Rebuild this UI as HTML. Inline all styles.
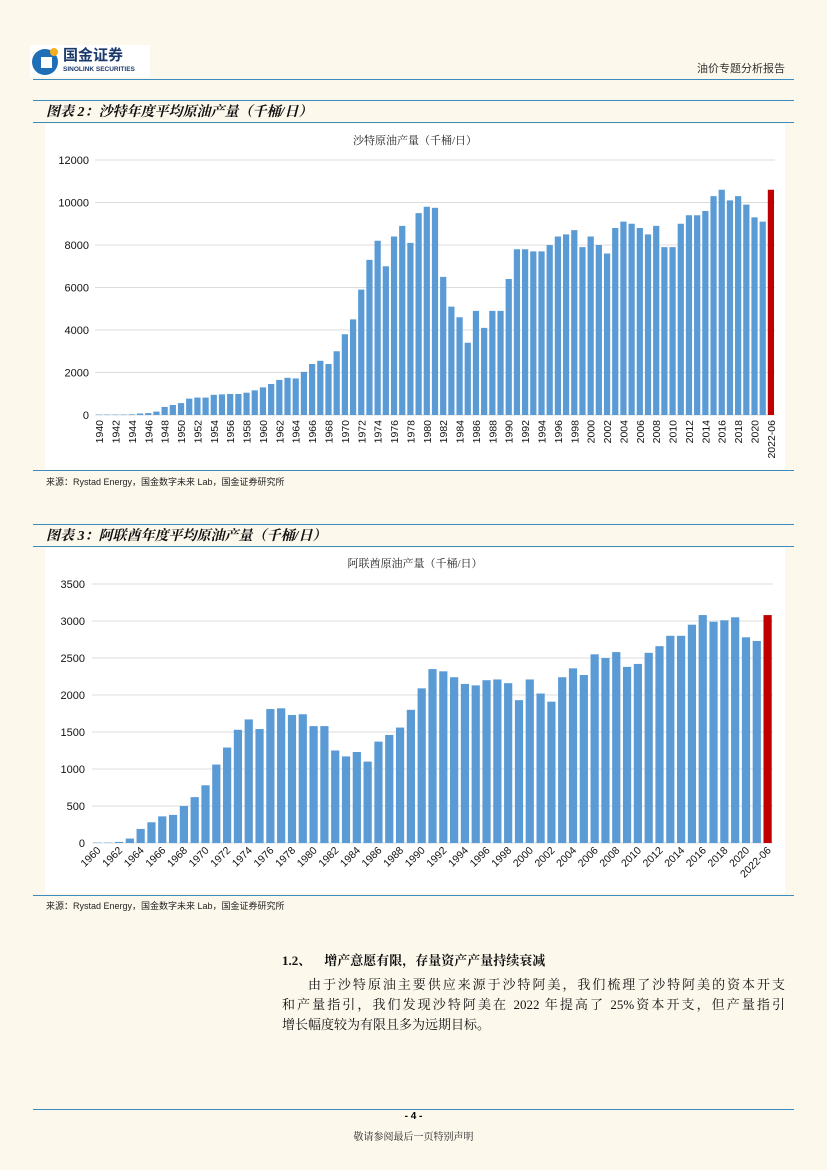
<!DOCTYPE html>
<html><head><meta charset="utf-8">
<style>
body{margin:0;background:#fdf8ec;}
#page{position:relative;width:827px;height:1170px;background:#fdf8ec;font-family:"Liberation Sans","Noto Sans CJK SC",sans-serif;overflow:hidden;}
.abs{position:absolute;}
.hl{position:absolute;height:1px;background:#3a8cc0;}
.ttl{position:absolute;left:46px;font-size:14px;font-weight:bold;font-style:italic;color:#111;font-family:"Liberation Serif","Noto Serif CJK SC",serif;}
.src{position:absolute;left:46px;font-size:9px;color:#222;}
.jl{text-align:justify;text-align-last:justify;white-space:nowrap;}
</style></head><body>
<div id="page">
  <div class="abs" style="left:30px;top:45px;width:120px;height:32px;background:#fff;">
    <div class="abs" style="left:2px;top:4px;width:26px;height:26px;border-radius:50%;background:#1e6fb5;"></div>
    <div class="abs" style="left:11px;top:12px;width:11px;height:11px;background:#fff;"></div>
    <div class="abs" style="left:20px;top:3px;width:8px;height:8px;border-radius:50%;background:#f2b01e;"></div>
    <div class="abs" style="left:33px;top:2px;font-size:15px;line-height:17px;font-weight:bold;color:#1b3a6b;">国金证券</div>
    <div class="abs" style="left:33px;top:21px;font-size:6.5px;line-height:8px;font-weight:bold;color:#1b3a6b;">SINOLINK SECURITIES</div>
  </div>
  <div class="abs" style="right:42px;top:60px;font-size:11px;color:#333;">油价专题分析报告</div>
  <div class="hl" style="left:33px;width:761px;top:79px;"></div>
  <div class="hl" style="left:33px;width:761px;top:100px;"></div>
  <div class="ttl" style="top:101px;">图表 2：沙特年度平均原油产量（千桶/日）</div>
  <div class="hl" style="left:33px;width:761px;top:122px;"></div>
  <svg class="abs" id="c1" style="left:45px;top:124px;" width="740" height="345"></svg>
  <div class="hl" style="left:33px;width:761px;top:470px;"></div>
  <div class="src" style="top:475px;">来源：Rystad Energy，国金数字未来 Lab，国金证券研究所</div>

  <div class="hl" style="left:33px;width:761px;top:524px;"></div>
  <div class="ttl" style="top:525px;">图表 3：阿联酋年度平均原油产量（千桶/日）</div>
  <div class="hl" style="left:33px;width:761px;top:546px;"></div>
  <svg class="abs" id="c2" style="left:45px;top:548px;" width="740" height="345"></svg>
  <div class="hl" style="left:33px;width:761px;top:895px;"></div>
  <div class="src" style="top:899px;">来源：Rystad Energy，国金数字未来 Lab，国金证券研究所</div>

  <div class="abs" style="left:282px;top:950px;font-size:13px;font-weight:bold;color:#111;font-family:'Liberation Serif','Noto Serif CJK SC',serif;">1.2、&nbsp;&nbsp;&nbsp;&nbsp;增产意愿有限，存量资产产量持续衰减</div>
  <div class="abs" style="left:282px;top:975px;width:503px;font-size:13px;line-height:20px;color:#111;font-family:'Liberation Serif','Noto Serif CJK SC',serif;">
    <div class="jl" style="padding-left:26px;">由于沙特原油主要供应来源于沙特阿美，我们梳理了沙特阿美的资本开支</div>
    <div class="jl">和产量指引，我们发现沙特阿美在 2022 年提高了 25%资本开支，但产量指引</div>
    <div>增长幅度较为有限且多为远期目标。</div>
  </div>

  <div class="hl" style="left:33px;width:761px;top:1109px;"></div>
  <div class="abs" style="left:0;width:827px;text-align:center;top:1111px;font-size:10px;font-weight:bold;">- 4 -</div>
  <div class="abs" style="left:0;width:827px;text-align:center;top:1128px;font-size:10px;color:#222;font-family:'Liberation Serif','Noto Serif CJK SC',serif;">敬请参阅最后一页特别声明</div>
</div>
<script>
const saudiYears = [];
for (let y = 1940; y <= 2021; y++) saudiYears.push(String(y));
saudiYears.push('2022-06');
const saudiValues = [20,20,20,20,30,70,90,160,380,470,560,770,820,820,950,970,990,990,1050,1160,1300,1460,1650,1750,1720,2030,2400,2550,2400,3000,3800,4500,5900,7300,8200,7000,8400,8900,8100,9500,9800,9750,6500,5100,4600,3400,4900,4100,4900,4900,6400,7800,7800,7700,7700,8000,8400,8500,8700,7900,8400,8000,7600,8800,9100,9000,8800,8500,8900,7900,7900,9000,9400,9400,9600,10300,10600,10100,10300,9900,9300,9100,10600];
const saudiTicks = [0,2000,4000,6000,8000,10000,12000];

const uaeYears = [];
for (let y = 1960; y <= 2021; y++) uaeYears.push(String(y));
uaeYears.push('2022-06');
const uaeValues = [5,5,15,60,190,280,360,380,500,620,780,1060,1290,1530,1670,1540,1810,1820,1730,1740,1580,1580,1250,1170,1230,1100,1370,1460,1560,1800,2090,2350,2320,2240,2150,2130,2200,2210,2160,1930,2210,2020,1910,2240,2360,2270,2550,2500,2580,2380,2420,2570,2660,2800,2800,2950,3080,2990,3010,3050,2780,2730,3080];
const uaeTicks = [0,500,1000,1500,2000,2500,3000,3500];

const NS='http://www.w3.org/2000/svg';
function mk(svg,tag,attrs){const e=document.createElementNS(NS,tag);for(const k in attrs)e.setAttribute(k,attrs[k]);svg.appendChild(e);return e;}

function draw(svg, title, cats, vals, ticks, o){
  mk(svg,'rect',{x:0,y:0,width:740,height:345,fill:'#fff'});
  const t=mk(svg,'text',{x:o.cx,y:o.ty,'font-size':11,'text-anchor':'middle',fill:'#222','font-family':'"Liberation Serif","Noto Serif CJK SC",serif'});
  t.textContent=title;
  
  
  const max=ticks[ticks.length-1];
  const yS=v=>o.y0-(v/max)*(o.y0-o.y1);
  const step=(o.x1-o.x0)/cats.length;
  const xS=i=>o.x0+i*step;
  ticks.forEach(tv=>{
    const gl=mk(svg,'line',{x1:o.x0,x2:o.x1,y1:yS(tv),y2:yS(tv),stroke:'#dcdcdc','stroke-width':1});
    
    
    const tl=mk(svg,'text',{x:o.lx,y:yS(tv)+4,'font-size':11,'text-anchor':'end',fill:'#111','font-family':'Liberation Sans,sans-serif'});
    tl.textContent=tv;
    
    
  });
  vals.forEach((v,i)=>{
    const last=i===vals.length-1;
    const b=mk(svg,'rect',{x:xS(i)+step*0.12,y:yS(v),width:step*0.76,height:o.y0-yS(v),fill:last?'#c00000':'#5b9bd5'});
    
    
  });
  cats.forEach((c,i)=>{
    if(i%2!==0 && i!==cats.length-1) return;
    const cx=xS(i)+step/2;
    let tx;
    if(o.rot===-90){
      tx=mk(svg,'text',{x:cx+4,y:o.y0+5,'font-size':10.5,'text-anchor':'end',fill:'#111','font-family':'Liberation Sans,sans-serif',transform:`rotate(-90 ${cx+4} ${o.y0+5})`});
    } else {
      tx=mk(svg,'text',{x:cx+4,y:o.y0+8,'font-size':10.5,'text-anchor':'end',fill:'#111','font-family':'Liberation Sans,sans-serif',transform:`rotate(-45 ${cx+4} ${o.y0+8})`});
    }
    tx.textContent=c;
    
    
  });
}
draw(document.getElementById('c1'),'沙特原油产量（千桶/日）',saudiYears,saudiValues,saudiTicks,{x0:50,x1:730,y0:291,y1:36,lx:44,cx:370,ty:20,rot:-90});
draw(document.getElementById('c2'),'阿联酋原油产量（千桶/日）',uaeYears,uaeValues,uaeTicks,{x0:47,x1:728,y0:295,y1:36,lx:40,cx:370,ty:19,rot:-45});
</script>
</body></html>
